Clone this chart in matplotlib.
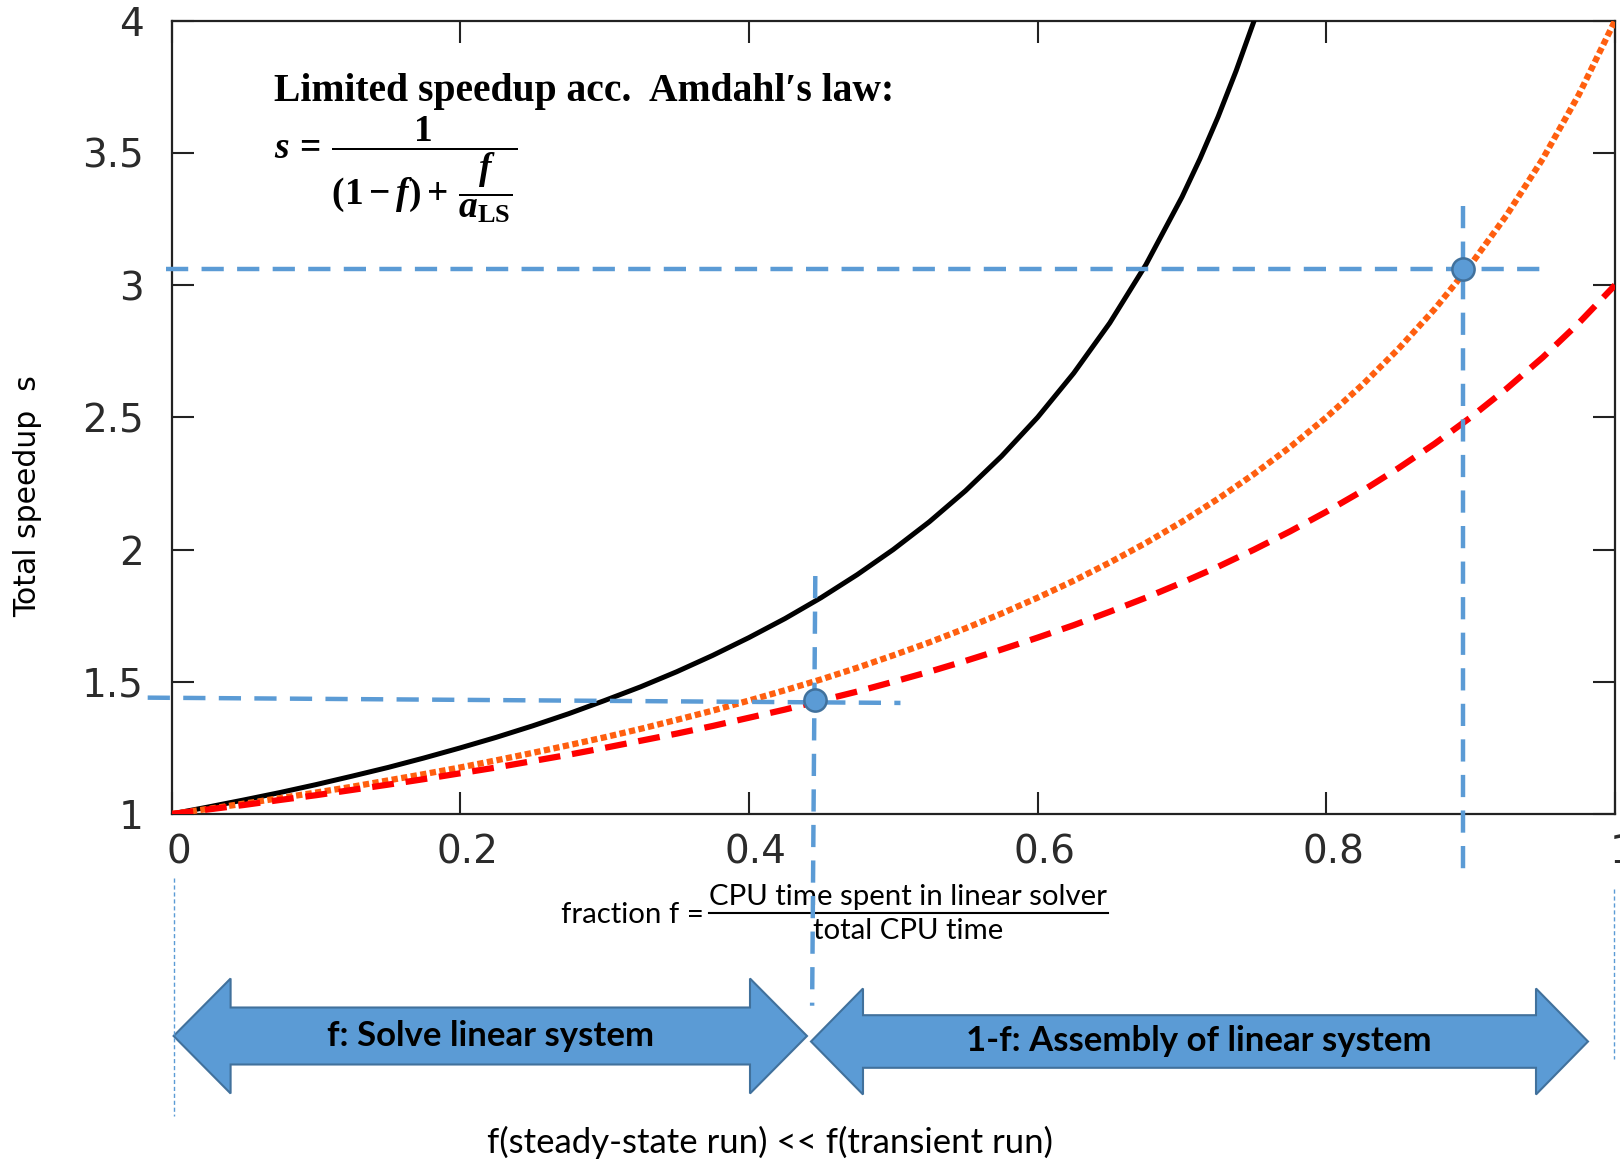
import matplotlib.pyplot as plt
from matplotlib.patches import Polygon
from matplotlib.transforms import ScaledTranslation

# Amdahl's law curves
f_ideal = [0.0, 0.025, 0.05, 0.075, 0.1, 0.125, 0.15, 0.175, 0.2, 0.225, 0.25,
           0.275, 0.3, 0.325, 0.35, 0.375, 0.4, 0.425, 0.45, 0.475, 0.5,
           0.525, 0.55, 0.575, 0.6, 0.625, 0.65, 0.675, 0.7, 0.7125, 0.725,
           0.7375, 0.75]
s_ideal = [1.000, 1.026, 1.053, 1.081, 1.111, 1.143, 1.176, 1.212, 1.250, 1.290, 1.333,
           1.379, 1.429, 1.481, 1.538, 1.600, 1.667, 1.739, 1.818, 1.905, 2.000,
           2.105, 2.222, 2.353, 2.500, 2.667, 2.857, 3.077, 3.333, 3.478, 3.636,
           3.810, 4.000]

f_lim = [0.0, 0.025, 0.05, 0.075, 0.1, 0.125, 0.15, 0.175, 0.2, 0.225, 0.25,
         0.275, 0.3, 0.325, 0.35, 0.375, 0.4, 0.425, 0.45, 0.475, 0.5,
         0.525, 0.55, 0.575, 0.6, 0.625, 0.65, 0.675, 0.7, 0.725, 0.75,
         0.775, 0.8, 0.825, 0.85, 0.875, 0.9, 0.925, 0.95, 0.975, 1.0]
s_a4 = [1.000, 1.019, 1.039, 1.060, 1.081, 1.103, 1.127, 1.151, 1.176, 1.203, 1.231,
        1.260, 1.290, 1.322, 1.356, 1.391, 1.429, 1.468, 1.509, 1.553, 1.600,
        1.649, 1.702, 1.758, 1.818, 1.882, 1.951, 2.025, 2.105, 2.192, 2.286,
        2.388, 2.500, 2.623, 2.759, 2.909, 3.077, 3.265, 3.478, 3.721, 4.000]
s_a3 = [1.000, 1.017, 1.034, 1.053, 1.071, 1.091, 1.111, 1.132, 1.154, 1.176, 1.200,
        1.224, 1.250, 1.277, 1.304, 1.333, 1.364, 1.395, 1.429, 1.463, 1.500,
        1.538, 1.579, 1.622, 1.667, 1.714, 1.765, 1.818, 1.875, 1.935, 2.000,
        2.069, 2.143, 2.222, 2.308, 2.400, 2.500, 2.609, 2.727, 2.857, 3.000]

# highlighted operating points
mark_f = [0.446, 0.895]
mark_s = [1.43, 3.06]

x_ticks = [0, 0.2, 0.4, 0.6, 0.8, 1]
x_labels = ['0', '0.2', '0.4', '0.6', '0.8', '1']
y_ticks = [1, 1.5, 2, 2.5, 3, 3.5, 4]
y_labels = ['1', '1.5', '2', '2.5', '3', '3.5', '4']

BLUE = '#5b9bd5'
BLUE_EDGE = '#41719c'
W, H = 1620, 1160

plt.rcParams['mathtext.fontset'] = 'custom'
plt.rcParams['mathtext.rm'] = 'Liberation Serif:bold'
plt.rcParams['mathtext.it'] = 'Liberation Serif:italic:bold'
plt.rcParams['mathtext.bf'] = 'Liberation Serif:bold'

fig = plt.figure(figsize=(W / 100, H / 100), dpi=100, facecolor='white')

# overlay in pixel coordinates for the annotations
ov = fig.add_axes([0, 0, 1, 1], zorder=-1)
ov.set_xlim(0, W)
ov.set_ylim(H, 0)
ov.axis('off')

ax = fig.add_axes([171.5 / W, 1 - 814 / H, (1615 - 171.5) / W, (814 - 20.7) / H])
ax.patch.set_facecolor('none')
ax.set_xlim(0, 1)
ax.set_ylim(1, 4)

ax.plot(f_ideal, s_ideal, color='black', lw=3.6, zorder=3)
ax.plot(f_lim, s_a4, color='#ff5f0f', lw=4.5, linestyle=(0, (1, 0.55)), zorder=3)
ax.plot(f_lim, s_a3, color='#ff0000', lw=4.5, linestyle=(0, (3.5, 1.9)), zorder=3)

# guide lines to the operating points
guide = dict(color=BLUE, lw=3.2, linestyle=(0, (5.0, 3.0)), clip_on=False, zorder=4)
ax.plot([-0.004, 0.951], [mark_s[1], mark_s[1]], **guide)
ax.plot([mark_f[1], mark_f[1]], [3.30, 0.76], **guide)
ax.plot([-0.0165, 0.505], [1.44, 1.42], **guide)
ax.plot([mark_f[0], 0.4438], [1.90, 0.275], **guide)
ax.plot(mark_f, mark_s, 'o', ms=16, color=BLUE, mec=BLUE_EDGE, mew=1.8,
        clip_on=False, zorder=5)

ax.set_xticks(x_ticks)
ax.set_xticklabels(x_labels)
ax.set_yticks(y_ticks)
ax.set_yticklabels(y_labels)
ax.tick_params(direction='in', length=16, width=1.5, top=True, right=True,
               labelsize=28, labelcolor='#2b2b2b', color='#222222')
ax.tick_params(axis='x', pad=14)
ax.tick_params(axis='y', pad=20)
for lab in ax.get_xticklabels():
    lab.set_transform(lab.get_transform() + ScaledTranslation(0.07, 0, fig.dpi_scale_trans))
for sp in ax.spines.values():
    sp.set_linewidth(1.6)
    sp.set_color('#222222')

fig.text(28 / W, 1 - 496 / H, 'Total speedup  s', rotation=90, ha='center',
         va='center', fontsize=21.5, color='black')

serif = ['Liberation Serif', 'DejaVu Serif']
ov.text(274, 101, 'Limited speedup acc.  Amdahl\u2032s law:', ha='left',
        va='baseline', fontsize=28.5, fontweight='bold', family=serif)
ov.text(274, 114,
        r'$s\,=\,\dfrac{1}{(1 - f) +\,\dfrac{f}{a_{\mathrm{LS}}}}$',
        ha='left', va='top', fontsize=27)

sans = ['Lato', 'DejaVu Sans']
ov.text(704, 915, 'fraction f =', ha='right', va='center', fontsize=21.2, family=sans)
ov.text(908, 897, 'CPU time spent in linear solver', ha='center', va='center',
        fontsize=21.2, family=sans)
ov.plot([709, 1108], [913, 913], color='black', lw=1.5)
ov.text(908, 931, 'total CPU time', ha='center', va='center', fontsize=21.2, family=sans)


def double_arrow(x0, x1, yc, shaft, head, head_len):
    pts = [(x0, yc), (x0 + head_len, yc - head), (x0 + head_len, yc - shaft),
           (x1 - head_len, yc - shaft), (x1 - head_len, yc - head), (x1, yc),
           (x1 - head_len, yc + head), (x1 - head_len, yc + shaft),
           (x0 + head_len, yc + shaft), (x0 + head_len, yc + head)]
    ov.add_patch(Polygon(pts, closed=True, facecolor=BLUE, edgecolor=BLUE_EDGE, lw=1.5))


double_arrow(173.6, 807, 1036, 28.5, 57.5, 57)
double_arrow(811, 1588, 1041.5, 26.3, 53, 52)
ov.text(491, 1036, 'f: Solve linear system', ha='center', va='center',
        fontsize=25, fontweight='bold', family=sans)
ov.text(1199, 1041, '1-f: Assembly of linear system', ha='center', va='center',
        fontsize=25, fontweight='bold', family=sans)

ov.plot([173.6, 173.6], [878, 1116], color=BLUE, lw=1, linestyle=(0, (3, 2)))
ov.plot([1614, 1614], [889, 1059], color=BLUE, lw=1, linestyle=(0, (3, 2)))

ov.text(770, 1142, 'f(steady-state run) << f(transient run)', ha='center',
        va='center', fontsize=25, family=sans)

fig.savefig('out.png', dpi=100, facecolor='white')
